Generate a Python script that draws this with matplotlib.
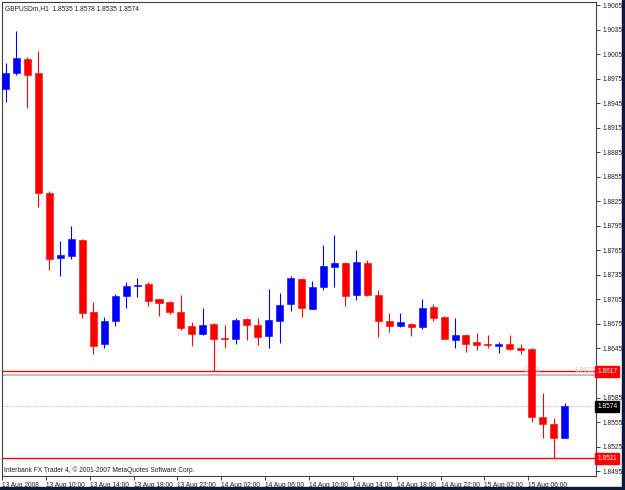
import numpy as np
import matplotlib
matplotlib.use("Agg")
import matplotlib.pyplot as plt
from matplotlib.patches import Rectangle

# GBPUSDm H1 bars, 13 Aug 2008 06:00 .. 15 Aug 2008 09:00
opens = [1.8962, 1.8982, 1.8999, 1.8982, 1.8835, 1.8756, 1.8758, 1.8778, 1.8689, 1.8650,
         1.8679, 1.8709, 1.8721, 1.8724, 1.8705, 1.8702, 1.8690, 1.8672, 1.8663, 1.8675,
         1.8658, 1.8657, 1.8681, 1.8674, 1.8660, 1.8679, 1.8699, 1.8730, 1.8693, 1.8720,
         1.8745, 1.8750, 1.8710, 1.8750, 1.8710, 1.8678, 1.8672, 1.8675, 1.8671, 1.8696,
         1.8684, 1.8655, 1.8661, 1.8653, 1.8651, 1.8648, 1.8650, 1.8645, 1.8644, 1.8561,
         1.8552, 1.8535]
highs = [1.8994, 1.9033, 1.9001, 1.9009, 1.8837, 1.8776, 1.8795, 1.8779, 1.8702, 1.8684,
         1.8712, 1.8726, 1.8731, 1.8726, 1.8706, 1.8703, 1.8710, 1.8677, 1.8694, 1.8676,
         1.8674, 1.8682, 1.8682, 1.8682, 1.8718, 1.8713, 1.8734, 1.8731, 1.8728, 1.8771,
         1.8784, 1.8751, 1.8766, 1.8753, 1.8716, 1.8688, 1.8688, 1.8676, 1.8705, 1.8699,
         1.8685, 1.8682, 1.8663, 1.8664, 1.8661, 1.8653, 1.8661, 1.8650, 1.8646, 1.8591,
         1.8560, 1.8578]
lows = [1.8946, 1.8979, 1.8939, 1.8818, 1.8741, 1.8733, 1.8754, 1.8682, 1.8638, 1.8645,
        1.8673, 1.8694, 1.8708, 1.8697, 1.8685, 1.8687, 1.8668, 1.8648, 1.8662, 1.8617,
        1.8646, 1.8650, 1.8655, 1.8649, 1.8646, 1.8652, 1.8691, 1.8683, 1.8693, 1.8716,
        1.8720, 1.8697, 1.8704, 1.8709, 1.8659, 1.8665, 1.8671, 1.8660, 1.8669, 1.8679,
        1.8656, 1.8646, 1.8641, 1.8643, 1.8646, 1.8640, 1.8643, 1.8638, 1.8555, 1.8536,
        1.8511, 1.8535]
closes = [1.8982, 1.9000, 1.8980, 1.8835, 1.8755, 1.8759, 1.8779, 1.8688, 1.8648, 1.8679,
          1.8709, 1.8721, 1.8723, 1.8703, 1.8700, 1.8689, 1.8670, 1.8663, 1.8674, 1.8657,
          1.8656, 1.8680, 1.8674, 1.8659, 1.8680, 1.8698, 1.8731, 1.8695, 1.8720, 1.8746,
          1.8749, 1.8709, 1.8751, 1.8710, 1.8678, 1.8673, 1.8677, 1.8671, 1.8695, 1.8682,
          1.8657, 1.8661, 1.8651, 1.8649, 1.8649, 1.8650, 1.8644, 1.8643, 1.8561, 1.8552,
          1.8535, 1.8574]

time_labels = ["13 Aug 2008", "13 Aug 10:00", "13 Aug 14:00", "13 Aug 18:00", "13 Aug 22:00",
               "14 Aug 02:00", "14 Aug 06:00", "14 Aug 10:00", "14 Aug 14:00", "14 Aug 18:00",
               "14 Aug 22:00", "15 Aug 02:00", "15 Aug 06:00"]
label_bars = [0, 4, 8, 12, 16, 20, 24, 28, 32, 36, 40, 44, 48]

price_ticks = [1.9065, 1.9035, 1.9005, 1.8975, 1.8945, 1.8915, 1.8885, 1.8855, 1.8825, 1.8795,
               1.8765, 1.8735, 1.8705, 1.8675, 1.8645, 1.8615, 1.8585, 1.8555, 1.8525, 1.8495]

level_lines = [1.8617, 1.8511]   # red horizontal lines
fib_line = 1.8612                # gray line
bid = 1.8574

BULL = "#0000ff"
BEAR = "#ff0000"
FS = 4.8
plt.rcParams["font.family"] = ["Liberation Sans", "DejaVu Sans"]

fig = plt.figure(figsize=(6.25, 4.9), dpi=100)
ax = fig.add_axes([2 / 625, 1 - 476 / 490, 594 / 625, 474 / 490])

x = np.arange(len(opens))
for i in x:
    o, h, l, c = opens[i], highs[i], lows[i], closes[i]
    col = BULL if c > o else BEAR
    ax.vlines(i, l, h, color=col, lw=0.8, zorder=3)
    bottom = min(o, c)
    height = max(abs(c - o), 0.00008)
    ax.add_patch(Rectangle((i - 0.32, bottom), 0.64, height, facecolor=col,
                           edgecolor=col, lw=0.4, zorder=4))

# horizontal levels
ax.axhline(fib_line, color="#c0c0c0", lw=1.6, zorder=1)
for lv in level_lines:
    ax.axhline(lv, color=BEAR, lw=1.0, zorder=2)
ax.axhline(bid, color="#c0c0c0", lw=0.8, ls=(0, (1, 1)), zorder=1)
ax.text(47.3, fib_line + 0.0002, "0.618", fontsize=FS, color="#c8c8c8", ha="left", va="bottom")
ax.text(0.997, fib_line + 0.0002, "1.8612", transform=ax.get_yaxis_transform(), fontsize=FS,
        color="#c8c8c8", ha="right", va="bottom")

ax.set_xlim(-0.14, 53.86)
ax.set_ylim(1.8489, 1.90687)

ax.yaxis.tick_right()
ax.set_yticks(price_ticks)
# the 1.8615 label sits under the red 1.8617 box in the terminal
ax.set_yticklabels(["" if p == 1.8615 else f"{p:.4f}" for p in price_ticks],
                   fontsize=FS, color="#202020")
ax.tick_params(axis="y", direction="out", length=3, width=0.6, pad=1.5, colors="#202020")

ax.set_xticks([b - 0.32 for b in label_bars])
ax.set_xticklabels(time_labels, fontsize=FS, color="#202020", ha="left")
ax.tick_params(axis="x", direction="out", length=3, width=0.6, pad=1.5, colors="#202020")

for sp in ax.spines.values():
    sp.set_color("#404040")
    sp.set_linewidth(0.8)

# price boxes on the right axis
ytr = ax.get_yaxis_transform()
for lv in level_lines:
    ax.text(1.002, lv, f"{lv:.4f}", transform=ytr, fontsize=FS, color="white", ha="left",
            va="center", bbox=dict(boxstyle="square,pad=0.3", fc=BEAR, ec=BEAR), zorder=6)
ax.text(1.002, bid, f"{bid:.4f}", transform=ytr, fontsize=FS, color="white", ha="left",
        va="center", bbox=dict(boxstyle="square,pad=0.3", fc="#000000", ec="#000000"), zorder=6)

ax.text(0.005, 0.993, "GBPUSDm,H1  1.8535 1.8578 1.8535 1.8574", transform=ax.transAxes,
        fontsize=FS, color="#202020", ha="left", va="top")
ax.text(0.004, 0.004, "Interbank FX Trader 4, \u00a9 2001-2007 MetaQuotes Software Corp.",
        transform=ax.transAxes, fontsize=FS, color="#202020", ha="left", va="bottom")

# dark window frame at bottom and right
fig.patches.append(Rectangle((0, 0), 1, 3.5 / 490, transform=fig.transFigure,
                             color="#0a1a3c", zorder=0))
fig.patches.append(Rectangle((1 - 3 / 625, 0), 3 / 625, 1, transform=fig.transFigure,
                             color="#0a1a3c", zorder=0))

fig.savefig("out.png", dpi=100)
